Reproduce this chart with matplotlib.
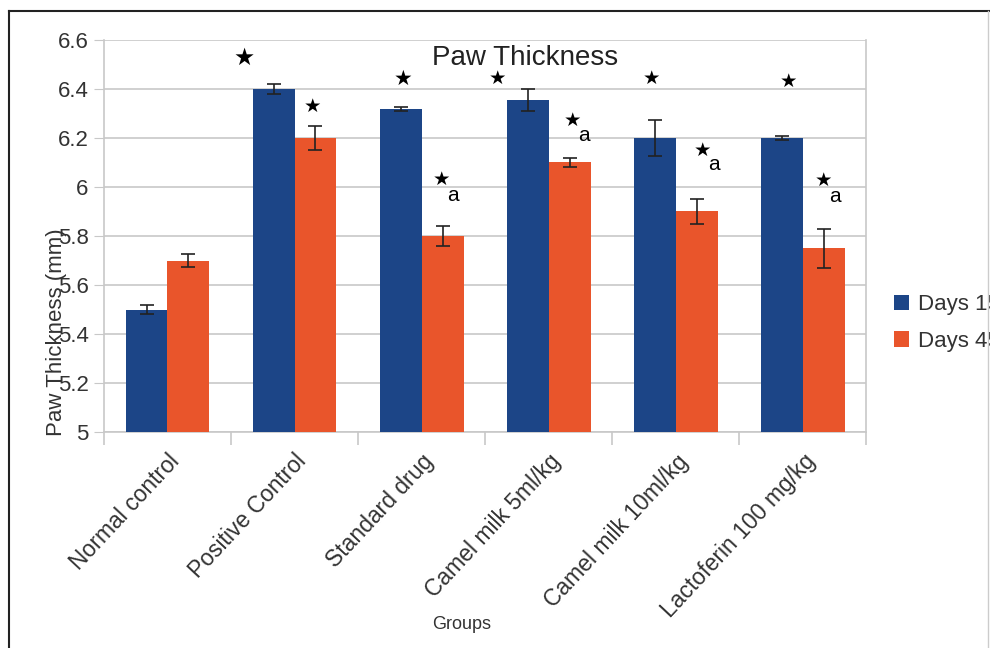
import matplotlib.pyplot as plt
import numpy as np
from matplotlib.lines import Line2D

plt.rcParams['font.family'] = ['Liberation Sans', 'DejaVu Sans']

groups = ["Normal control", "Positive Control", "Standard drug",
          "Camel milk 5ml/kg", "Camel milk 10ml/kg", "Lactoferin 100 mg/kg"]
days15 = [5.50, 6.40, 6.32, 6.355, 6.20, 6.20]
days15_err = [0.02, 0.02, 0.008, 0.045, 0.075, 0.008]
days45 = [5.70, 6.20, 5.80, 6.10, 5.90, 5.75]
days45_err = [0.025, 0.05, 0.04, 0.02, 0.05, 0.08]
yticks = [5, 5.2, 5.4, 5.6, 5.8, 6, 6.2, 6.4, 6.6]
ytick_labels = ["5", "5.2", "5.4", "5.6", "5.8", "6", "6.2", "6.4", "6.6"]

# significance marks: (group, x offset, y, text, size)
marks = [
    (1, -0.40, 6.525, "★", 17),
    (1, 0.14, 6.33, "★", 14),
    (2, -0.15, 6.44, "★", 15),
    (2, 0.16, 6.03, "★", 14), (2, 0.25, 5.965, "a", 15),
    (3, -0.40, 6.445, "★", 14),
    (3, 0.19, 6.27, "★", 14), (3, 0.28, 6.21, "a", 15),
    (4, -0.19, 6.445, "★", 14),
    (4, 0.21, 6.15, "★", 14), (4, 0.30, 6.09, "a", 15),
    (5, -0.11, 6.43, "★", 14),
    (5, 0.16, 6.025, "★", 14), (5, 0.25, 5.963, "a", 15),
]

blue = "#1c4587"
orange = "#e9552b"
grid = "#c8c8c8"

fig = plt.figure(figsize=(9.9, 6.48), dpi=100)
ax = fig.add_axes([0.105, 0.3333, 0.77, 0.605])

x = np.arange(len(groups))
w = 0.33
ekw = dict(ecolor="#222222", elinewidth=1.2, capsize=5, capthick=1.2)
ax.bar(x - w / 2, days15, w, yerr=days15_err, color=blue,
       label="Days 15", error_kw=ekw, zorder=3)
ax.bar(x + w / 2, days45, w, yerr=days45_err, color=orange,
       label="Days 45", error_kw=ekw, zorder=3)

ax.set_ylim(5, 6.6)
ax.set_xlim(-0.5, len(groups) - 0.5)
ax.set_yticks(yticks)
ax.set_yticklabels(ytick_labels, fontsize=16, color="#333333")
ax.yaxis.grid(True, color=grid, linewidth=1.2, zorder=0)
ax.tick_params(axis="y", length=7, color=grid, pad=4)

# category separators below the axis
ax.set_xticks(np.arange(len(groups) + 1) - 0.5)
ax.set_xticklabels([])
ax.tick_params(axis="x", length=9, color=grid, width=1.2)
ax.set_xticks(x, minor=True)
ax.set_xticklabels(groups, minor=True, rotation=47, ha="right",
                   rotation_mode="anchor", fontsize=16.5, color="#333333")
ax.tick_params(axis="x", which="minor", length=0, pad=13)

for side in ["left", "right", "bottom"]:
    ax.spines[side].set_color(grid)
    ax.spines[side].set_linewidth(1.2)
ax.spines["top"].set_visible(False)

for g, dx, y, txt, size in marks:
    ax.text(g + dx, y, txt, ha="center", va="center", fontsize=size,
            color="black", family=["DejaVu Sans"] if txt == "★" else None,
            zorder=4)

fig.text(0.53, 0.9105, "Paw Thickness", fontsize=20, color="#222222",
         ha="center", va="center")
ax.set_ylabel("Paw Thickness (mm)", fontsize=16, color="#333333")
ax.yaxis.set_label_coords(-0.049, 0.255)
ax.set_xlabel("Groups", fontsize=13, color="#333333")
ax.xaxis.set_label_coords(0.469, -0.47)

leg = ax.legend(loc="center left", bbox_to_anchor=(1.01, 0.278), frameon=False,
                fontsize=16, handlelength=0.7, handleheight=0.7,
                handletextpad=0.4, labelspacing=0.7)
for t in leg.get_texts():
    t.set_color("#333333")

# outer frame
fig.add_artist(Line2D([0.009, 1.0], [0.983, 0.983], color="#222222", lw=1.5))
fig.add_artist(Line2D([0.009, 0.009], [0.0, 0.983], color="#222222", lw=1.5))
fig.add_artist(Line2D([0.998, 0.998], [0.0, 0.983], color="#cccccc", lw=1.0))

fig.savefig("out.png", dpi=100)
